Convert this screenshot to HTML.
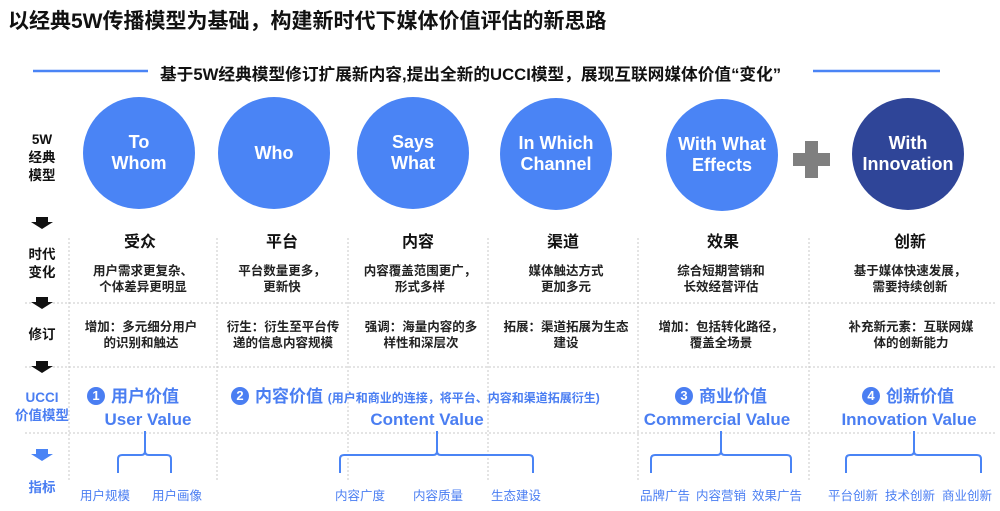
<!DOCTYPE html>
<html><head><meta charset="utf-8"><style>
body{margin:0;width:1000px;height:511px;background:#fff;position:relative;overflow:hidden;font-family:"Liberation Sans","Noto Sans CJK SC",sans-serif;}
.a{position:absolute;white-space:nowrap;}
.c{transform:translateX(-50%);text-align:center;}
.b{font-weight:bold;}
.circ{position:absolute;width:112px;height:112px;border-radius:50%;background:#4a84f5;color:#fff;font-weight:bold;font-size:18px;display:flex;align-items:center;justify-content:center;text-align:center;line-height:21px;}
.h{font-size:16px;font-weight:bold;color:#111;}
.t{font-size:12.5px;color:#222;line-height:16px;font-weight:bold;}
.blu{color:#4a7ef2;font-weight:bold;}
.m{font-size:12.5px;color:#4a7ef2;}
.lab{font-size:13.5px;font-weight:bold;color:#111;line-height:18px;text-align:center;}
.num{display:inline-block;width:18px;height:18px;border-radius:50%;background:#4a7ef2;color:#fff;font-size:13px;line-height:18px;text-align:center;vertical-align:2px;margin-right:6px;}
</style></head><body>
<div class="a b" style="left:8px;top:5px;font-size:21px;color:#111;">以经典5W传播模型为基础，构建新时代下媒体价值评估的新思路</div>
<div class="a b" style="left:160px;top:61px;font-size:16.7px;color:#111;">基于5W经典模型修订扩展新内容,提出全新的UCCI模型，展现互联网媒体价值“变化”</div>
<svg class="a" style="left:0;top:0" width="1000" height="511">
<line x1="33" y1="71" x2="148" y2="71" stroke="#4a84f5" stroke-width="2.5"/>
<line x1="813" y1="71" x2="940" y2="71" stroke="#4a84f5" stroke-width="2.5"/>
<g stroke="#c8c8c8" stroke-width="1" stroke-dasharray="2,2">
<line x1="69" y1="238" x2="69" y2="480"/><line x1="217" y1="238" x2="217" y2="480"/>
<line x1="348" y1="238" x2="348" y2="480"/><line x1="488" y1="238" x2="488" y2="480"/>
<line x1="638" y1="238" x2="638" y2="480"/><line x1="809" y1="238" x2="809" y2="480"/>
<line x1="25" y1="303" x2="995" y2="303"/><line x1="25" y1="367" x2="995" y2="367"/>
<line x1="25" y1="433" x2="995" y2="433"/>
</g>
<rect x="793" y="153" width="37" height="13" fill="#7f7f7f"/><rect x="805" y="141" width="13" height="37" fill="#7f7f7f"/>
<g fill="#111"><path d="M36 217h12v5h5l-11 7-11-7h5z"/><path d="M36 297h12v5h5l-11 7-11-7h5z"/><path d="M36 361h12v5h5l-11 7-11-7h5z"/></g>
<path d="M36 449h12v5h5l-11 7-11-7h5z" fill="#4a84f5"/>
<g fill="none" stroke="#4a84f5" stroke-width="2">
<path d="M118 473v-14q0-4 4-4h19q4 0 4-4v-20M145 431v20q0 4 4 4h18q4 0 4 4v14"/>
<path d="M340 473v-14q0-4 4-4h89q4 0 4-4v-20M437 431v20q0 4 4 4h88q4 0 4 4v14"/>
<path d="M651 473v-14q0-4 4-4h62q4 0 4-4v-20M721 431v20q0 4 4 4h62q4 0 4 4v14"/>
<path d="M846 473v-14q0-4 4-4h60q4 0 4-4v-20M914 431v20q0 4 4 4h59q4 0 4 4v14"/>
</g>
</svg>
<div class="circ" style="left:83px;top:97px;">To<br>Whom</div>
<div class="circ" style="left:218px;top:97px;">Who</div>
<div class="circ" style="left:357px;top:97px;">Says<br>What</div>
<div class="circ" style="left:500px;top:98px;">In Which<br>Channel</div>
<div class="circ" style="left:666px;top:99px;">With What<br>Effects</div>
<div class="circ" style="left:852px;top:98px;background:#2f4598;">With<br>Innovation</div>
<div class="a c lab" style="left:42px;top:131px;">5W<br>经典<br>模型</div>
<div class="a c lab" style="left:42px;top:246px;">时代<br>变化</div>
<div class="a c lab" style="left:42px;top:326px;">修订</div>
<div class="a c lab" style="left:42px;top:389px;color:#4a7ef2;">UCCI<br>价值模型</div>
<div class="a c lab" style="left:42px;top:479px;color:#4a7ef2;">指标</div>
<div class="a c h" style="left:140px;top:228px;">受众</div>
<div class="a c h" style="left:282px;top:228px;">平台</div>
<div class="a c h" style="left:418px;top:228px;">内容</div>
<div class="a c h" style="left:563px;top:228px;">渠道</div>
<div class="a c h" style="left:723px;top:228px;">效果</div>
<div class="a c h" style="left:910px;top:228px;">创新</div>
<div class="a c t" style="left:143px;top:263px;">用户需求更复杂、<br>个体差异更明显</div>
<div class="a c t" style="left:282px;top:263px;">平台数量更多，<br>更新快</div>
<div class="a c t" style="left:420px;top:263px;">内容覆盖范围更广，<br>形式多样</div>
<div class="a c t" style="left:566px;top:263px;">媒体触达方式<br>更加多元</div>
<div class="a c t" style="left:721px;top:263px;">综合短期营销和<br>长效经营评估</div>
<div class="a c t" style="left:910px;top:263px;">基于媒体快速发展，<br>需要持续创新</div>
<div class="a c t" style="left:141px;top:319px;">增加：多元细分用户<br>的识别和触达</div>
<div class="a c t" style="left:283px;top:319px;">衍生：衍生至平台传<br>递的信息内容规模</div>
<div class="a c t" style="left:421px;top:319px;">强调：海量内容的多<br>样性和深层次</div>
<div class="a c t" style="left:566px;top:319px;">拓展：渠道拓展为生态<br>建设</div>
<div class="a c t" style="left:721px;top:319px;">增加：包括转化路径，<br>覆盖全场景</div>
<div class="a c t" style="left:911px;top:319px;">补充新元素：互联网媒<br>体的创新能力</div>
<div class="a blu" style="left:87px;top:382px;font-size:17px;"><span class="num">1</span>用户价值</div>
<div class="a blu" style="left:231px;top:382px;font-size:17px;"><span class="num">2</span>内容价值 <span style="font-size:12px;">(用户和商业的连接，将平台、内容和渠道拓展衍生)</span></div>
<div class="a blu" style="left:675px;top:382px;font-size:17px;"><span class="num">3</span>商业价值</div>
<div class="a blu" style="left:862px;top:382px;font-size:17px;"><span class="num">4</span>创新价值</div>
<div class="a c blu" style="left:148px;top:410px;font-size:17px;">User Value</div>
<div class="a c blu" style="left:427px;top:410px;font-size:17px;">Content Value</div>
<div class="a c blu" style="left:717px;top:410px;font-size:17px;">Commercial Value</div>
<div class="a c blu" style="left:909px;top:410px;font-size:17px;">Innovation Value</div>
<div class="a c m" style="left:105px;top:485px;">用户规模</div>
<div class="a c m" style="left:177px;top:485px;">用户画像</div>
<div class="a c m" style="left:360px;top:485px;">内容广度</div>
<div class="a c m" style="left:438px;top:485px;">内容质量</div>
<div class="a c m" style="left:516px;top:485px;">生态建设</div>
<div class="a c m" style="left:665px;top:485px;">品牌广告</div>
<div class="a c m" style="left:721px;top:485px;">内容营销</div>
<div class="a c m" style="left:777px;top:485px;">效果广告</div>
<div class="a c m" style="left:853px;top:485px;">平台创新</div>
<div class="a c m" style="left:910px;top:485px;">技术创新</div>
<div class="a c m" style="left:967px;top:485px;">商业创新</div>
</body></html>
